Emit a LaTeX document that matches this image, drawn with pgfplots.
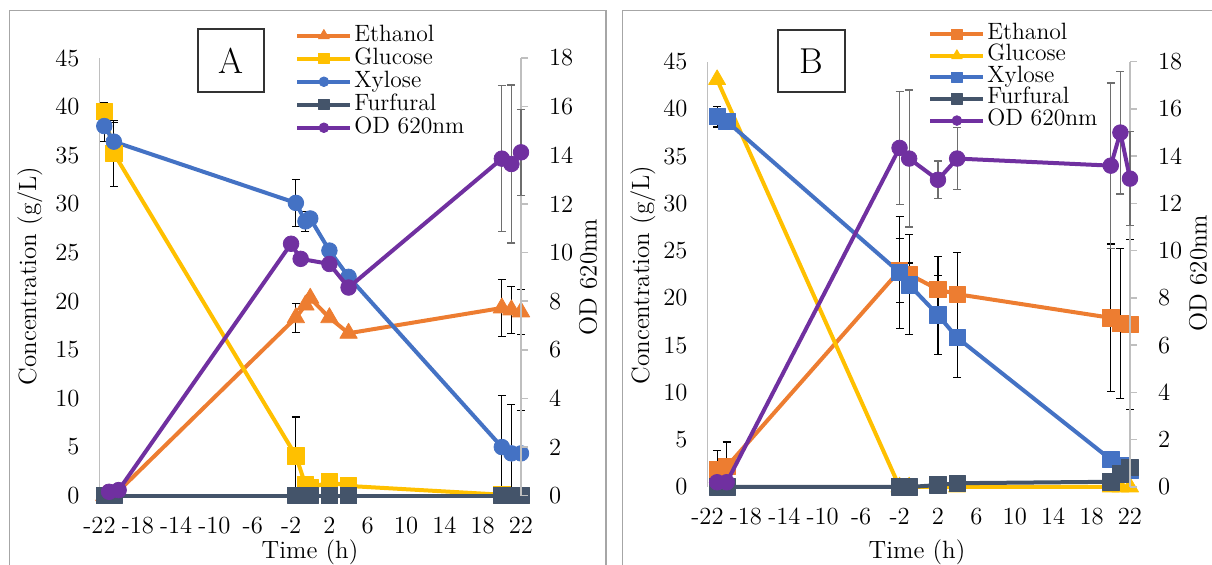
\documentclass[border=0pt]{standalone}
\usepackage{pgfplots}
\pgfplotsset{compat=1.18}
\definecolor{eth}{HTML}{ED7D31}
\definecolor{glu}{HTML}{FFC000}
\definecolor{xyl}{HTML}{4472C4}
\definecolor{fur}{HTML}{44546A}
\definecolor{od}{HTML}{7030A0}
\definecolor{axgray}{HTML}{BFBFBF}
\definecolor{framegray}{HTML}{A6A6A6}
\definecolor{errgray}{HTML}{6E6E6E}
\newcommand{\tickfont}{\fontsize{12.3}{14}\selectfont}
\newcommand{\labfont}{\fontsize{12.5}{14}\selectfont}
\newcommand{\legfont}{\fontsize{11.8}{13}\selectfont}
\pgfplotsset{
  base/.style={scale only axis, anchor=south west, xmin=-22, xmax=22, clip=false,
    tick label style={font=\tickfont}, /pgf/number format/assume math mode=true,
    y axis line style={draw=axgray, line width=0.75pt},
    legend image code/.code={\draw[mark repeat=2,mark phase=2,/tikz/every mark/.append style={scale=0.62}] plot coordinates {(0pt,0pt) (13.25pt,0pt) (26.5pt,0pt)};}},
  left/.style={base, axis y line*=left, axis x line*=bottom,
    x axis line style={draw=none}, xtick style={draw=none}, ytick style={draw=none},
    xtick={-22,-18,...,22}, ymin=0, ymax=45, ytick={0,5,...,45},
    yticklabel style={xshift=-6.5pt}, xticklabel style={yshift=-7pt}},
  right/.style={base, axis y line*=right, axis x line=none, ymin=0, ymax=18, ytick={0,2,...,18},
    ytick style={draw=axgray, line width=0.75pt}, tick align=outside, major tick length=3.5pt,
    yticklabel style={xshift=7pt}},
  ser/.style={line width=2pt, line join=round},
  sEthA/.style={ser, color=eth, mark=triangle*, mark size=5pt, mark options={line width=0.4pt}},
  sGluA/.style={ser, color=glu, mark=square*, mark size=4.1pt, mark options={line width=0.4pt}},
  sXylA/.style={ser, color=xyl, mark=*, mark size=3.9pt, mark options={line width=0.4pt}},
  sFur/.style={ser, color=fur, mark=square*, mark size=4.1pt, mark options={line width=0.4pt}},
  sOD/.style={ser, color=od, mark=*, mark size=3.9pt, mark options={line width=0.4pt}},
  sEthB/.style={ser, color=eth, mark=square*, mark size=4.1pt, mark options={line width=0.4pt}},
  sGluB/.style={ser, color=glu, mark=triangle*, mark size=4.9pt, mark options={line width=0.4pt}},
  sXylB/.style={ser, color=xyl, mark=square*, mark size=4.1pt, mark options={line width=0.4pt}},
  eb/.style={draw=none, mark=none, forget plot,
    error bars/.cd, y dir=both, y explicit,
    error bar style={draw=#1, line width=0.6pt, solid},
    error mark options={rotate=90, mark size=2pt, line width=0.6pt, draw=#1}},
  leg/.style={legend style={draw=none, fill=none, font=\legfont, inner xsep=0pt, inner ysep=0pt,
    row sep=0pt, nodes={inner xsep=1pt, inner ysep=0pt, text height=#1, text depth=2.9pt},
    legend cell align=left}},
}
\begin{document}
\begin{tikzpicture}
\useasboundingbox (0,0) rectangle (606pt,282.5pt);
\draw[framegray, line width=0.6pt] (4.65pt,-2pt) -- (4.65pt,277.15pt) -- (303pt,277.15pt) -- (303pt,-2pt);
\draw[framegray, line width=0.6pt] (311.35pt,-2pt) -- (311.35pt,277.15pt) -- (610pt,277.15pt);

% ---------------- Panel A ----------------
\begin{axis}[left, at={(49.75pt,34.65pt)}, width=210.75pt, height=218.85pt]
\addplot[eb=black] coordinates {(-1.5,18.3) +- (0,1.5) (0,20.3) +- (0,0.4) (2,18.3) +- (0,0.3) (20,19.3) +- (0,2.9) (21,19.1) +- (0,2.4) (22,18.9) +- (0,2.3)};
\addplot[sEthA] coordinates {(-21.5,0) (-20.5,0) (-1.5,18.3) (-0.5,19.6) (0,20.3) (2,18.3) (4,16.7) (20,19.3) (21,19.1) (22,18.9)};
\addplot[eb=black] coordinates {(-21.5,39.5) +- (0,0.9) (-20.5,35.2) +- (0,3.4) (-1.5,4.1) +- (0,4.0)};
\addplot[sGluA] coordinates {(-21.5,39.5) (-20.5,35.2) (-1.5,4.1) (-0.5,1.1) (0,0.8) (2,1.4) (4,1.0) (20,0.1) (21,0) (22,0)};
\addplot[eb=black] coordinates {(-21.5,38.0) +- (0,1.6) (-20.5,36.4) +- (0,2.0) (-1.5,30.1) +- (0,2.4) (-0.5,28.2) +- (0,1.0) (20,5.0) += (0,5.3) -= (0,5.0) (21,4.35) += (0,5.0) -= (0,4.35) (22,4.35) += (0,4.4) -= (0,4.35)};
\addplot[sXylA] coordinates {(-21.5,38.0) (-20.5,36.4) (-1.5,30.1) (-0.5,28.2) (0,28.5) (2,25.2) (4,22.5) (20,5.0) (21,4.35) (22,4.35)};
\addplot[sFur] coordinates {(-21.5,0) (-20.5,0) (-1.5,0) (-0.5,0) (0,0) (2,0) (4,0) (20,0) (21,0) (22,0)};
\end{axis}
\begin{axis}[right, leg=8.6pt, at={(49.75pt,34.65pt)}, width=210.75pt, height=218.85pt,
  legend style={at={(0.4638,1.078)}, anchor=north west}]
\addlegendimage{sEthA}\addlegendentry{Ethanol}
\addlegendimage{sGluA}\addlegendentry{Glucose}
\addlegendimage{sXylA}\addlegendentry{Xylose}
\addlegendimage{sFur}\addlegendentry{Furfural}
\addplot[eb=errgray] coordinates {(20,13.86) +- (0,3.0) (21,13.64) +- (0,3.25) (22,14.12) +- (0,1.77)};
\addplot[sOD] coordinates {(-21,0.16) (-20,0.23) (-2,10.36) (-1,9.74) (2,9.53) (4,8.56) (20,13.86) (21,13.64) (22,14.12)};
\addlegendentry{OD 620nm}
\end{axis}

% ---------------- Panel B ----------------
\begin{axis}[left, at={(353.75pt,39pt)}, width=211.25pt, height=212.65pt]
\addplot[eb=black] coordinates {(-21,1.8) +- (0,2.1) (-20,2.15) +- (0,2.6) (-2,22.9) +- (0,3.4) (-1,22.5) +- (0,1.2) (2,20.9) +- (0,3.5) (4,20.4) +- (0,4.4) (20,17.9) +- (0,7.8) (21,17.3) +- (0,7.9) (22,17.2) +- (0,9.0)};
\addplot[sEthB] coordinates {(-21,1.8) (-20,2.15) (-2,22.9) (-1,22.5) (2,20.9) (4,20.4) (20,17.9) (21,17.3) (22,17.2)};
\addplot[sGluB] coordinates {(-21,43.1) (-2,0) (-1,0) (2,0) (4,0) (20,0) (21,0) (22,0)};
\addplot[eb=black] coordinates {(-21,39.2) +- (0,1.1) (-2,22.7) +- (0,5.9) (-1,21.4) +- (0,5.3) (2,18.2) +- (0,4.2) (4,15.8) +- (0,4.2)};
\addplot[sXylB] coordinates {(-21,39.2) (-20,38.7) (-2,22.7) (-1,21.4) (2,18.2) (4,15.8) (20,2.9) (21,2.3) (22,1.8)};
\addplot[sFur] coordinates {(-21,0) (-20,0) (-2,0) (-1,0) (2,0.2) (4,0.4) (20,0.55) (21,1.4) (22,2.1)};
\end{axis}
\begin{axis}[right, leg=7.9pt, at={(353.75pt,39pt)}, width=211.25pt, height=212.65pt,
  legend style={at={(0.5219,1.091)}, anchor=north west}]
\addlegendimage{sEthB}\addlegendentry{Ethanol}
\addlegendimage{sGluB}\addlegendentry{Glucose}
\addlegendimage{sXylB}\addlegendentry{Xylose}
\addlegendimage{sFur}\addlegendentry{Furfural}
\addplot[eb=errgray] coordinates {(-2,14.35) +- (0,2.4) (-1,13.9) +- (0,2.9) (2,13.0) +- (0,0.8) (4,13.9) +- (0,1.3) (20,13.6) +- (0,3.5) (21,15.0) +- (0,2.6) (22,13.05) +- (0,2.0)};
\addplot[sOD] coordinates {(-21,0.2) (-20,0.2) (-2,14.35) (-1,13.9) (2,13.0) (4,13.9) (20,13.6) (21,15.0) (22,13.05)};
\addlegendentry{OD 620nm}
\end{axis}

% labels and boxes
\node[rotate=90, font=\labfont] at (15pt,144.5pt) {Concentration (g/L)};
\node[rotate=90, font=\labfont] at (294pt,144pt) {OD 620nm};
\node[font=\labfont] at (155pt,6.5pt) {Time (h)};
\node[rotate=90, font=\labfont] at (321.5pt,145pt) {Concentration (g/L)};
\node[rotate=90, font=\labfont] at (599pt,146pt) {OD 620nm};
\node[font=\labfont] at (458.5pt,6.5pt) {Time (h)};
\node[draw=black!80, line width=0.6pt, minimum width=33pt, minimum height=31.5pt, inner sep=0pt, font=\fontsize{18}{19}\selectfont] at (115.5pt,252.25pt) {A};
\node[draw=black!80, line width=0.6pt, minimum width=33.5pt, minimum height=31pt, inner sep=0pt, font=\fontsize{18}{19}\selectfont] at (405.75pt,252pt) {B};
\end{tikzpicture}
\end{document}
